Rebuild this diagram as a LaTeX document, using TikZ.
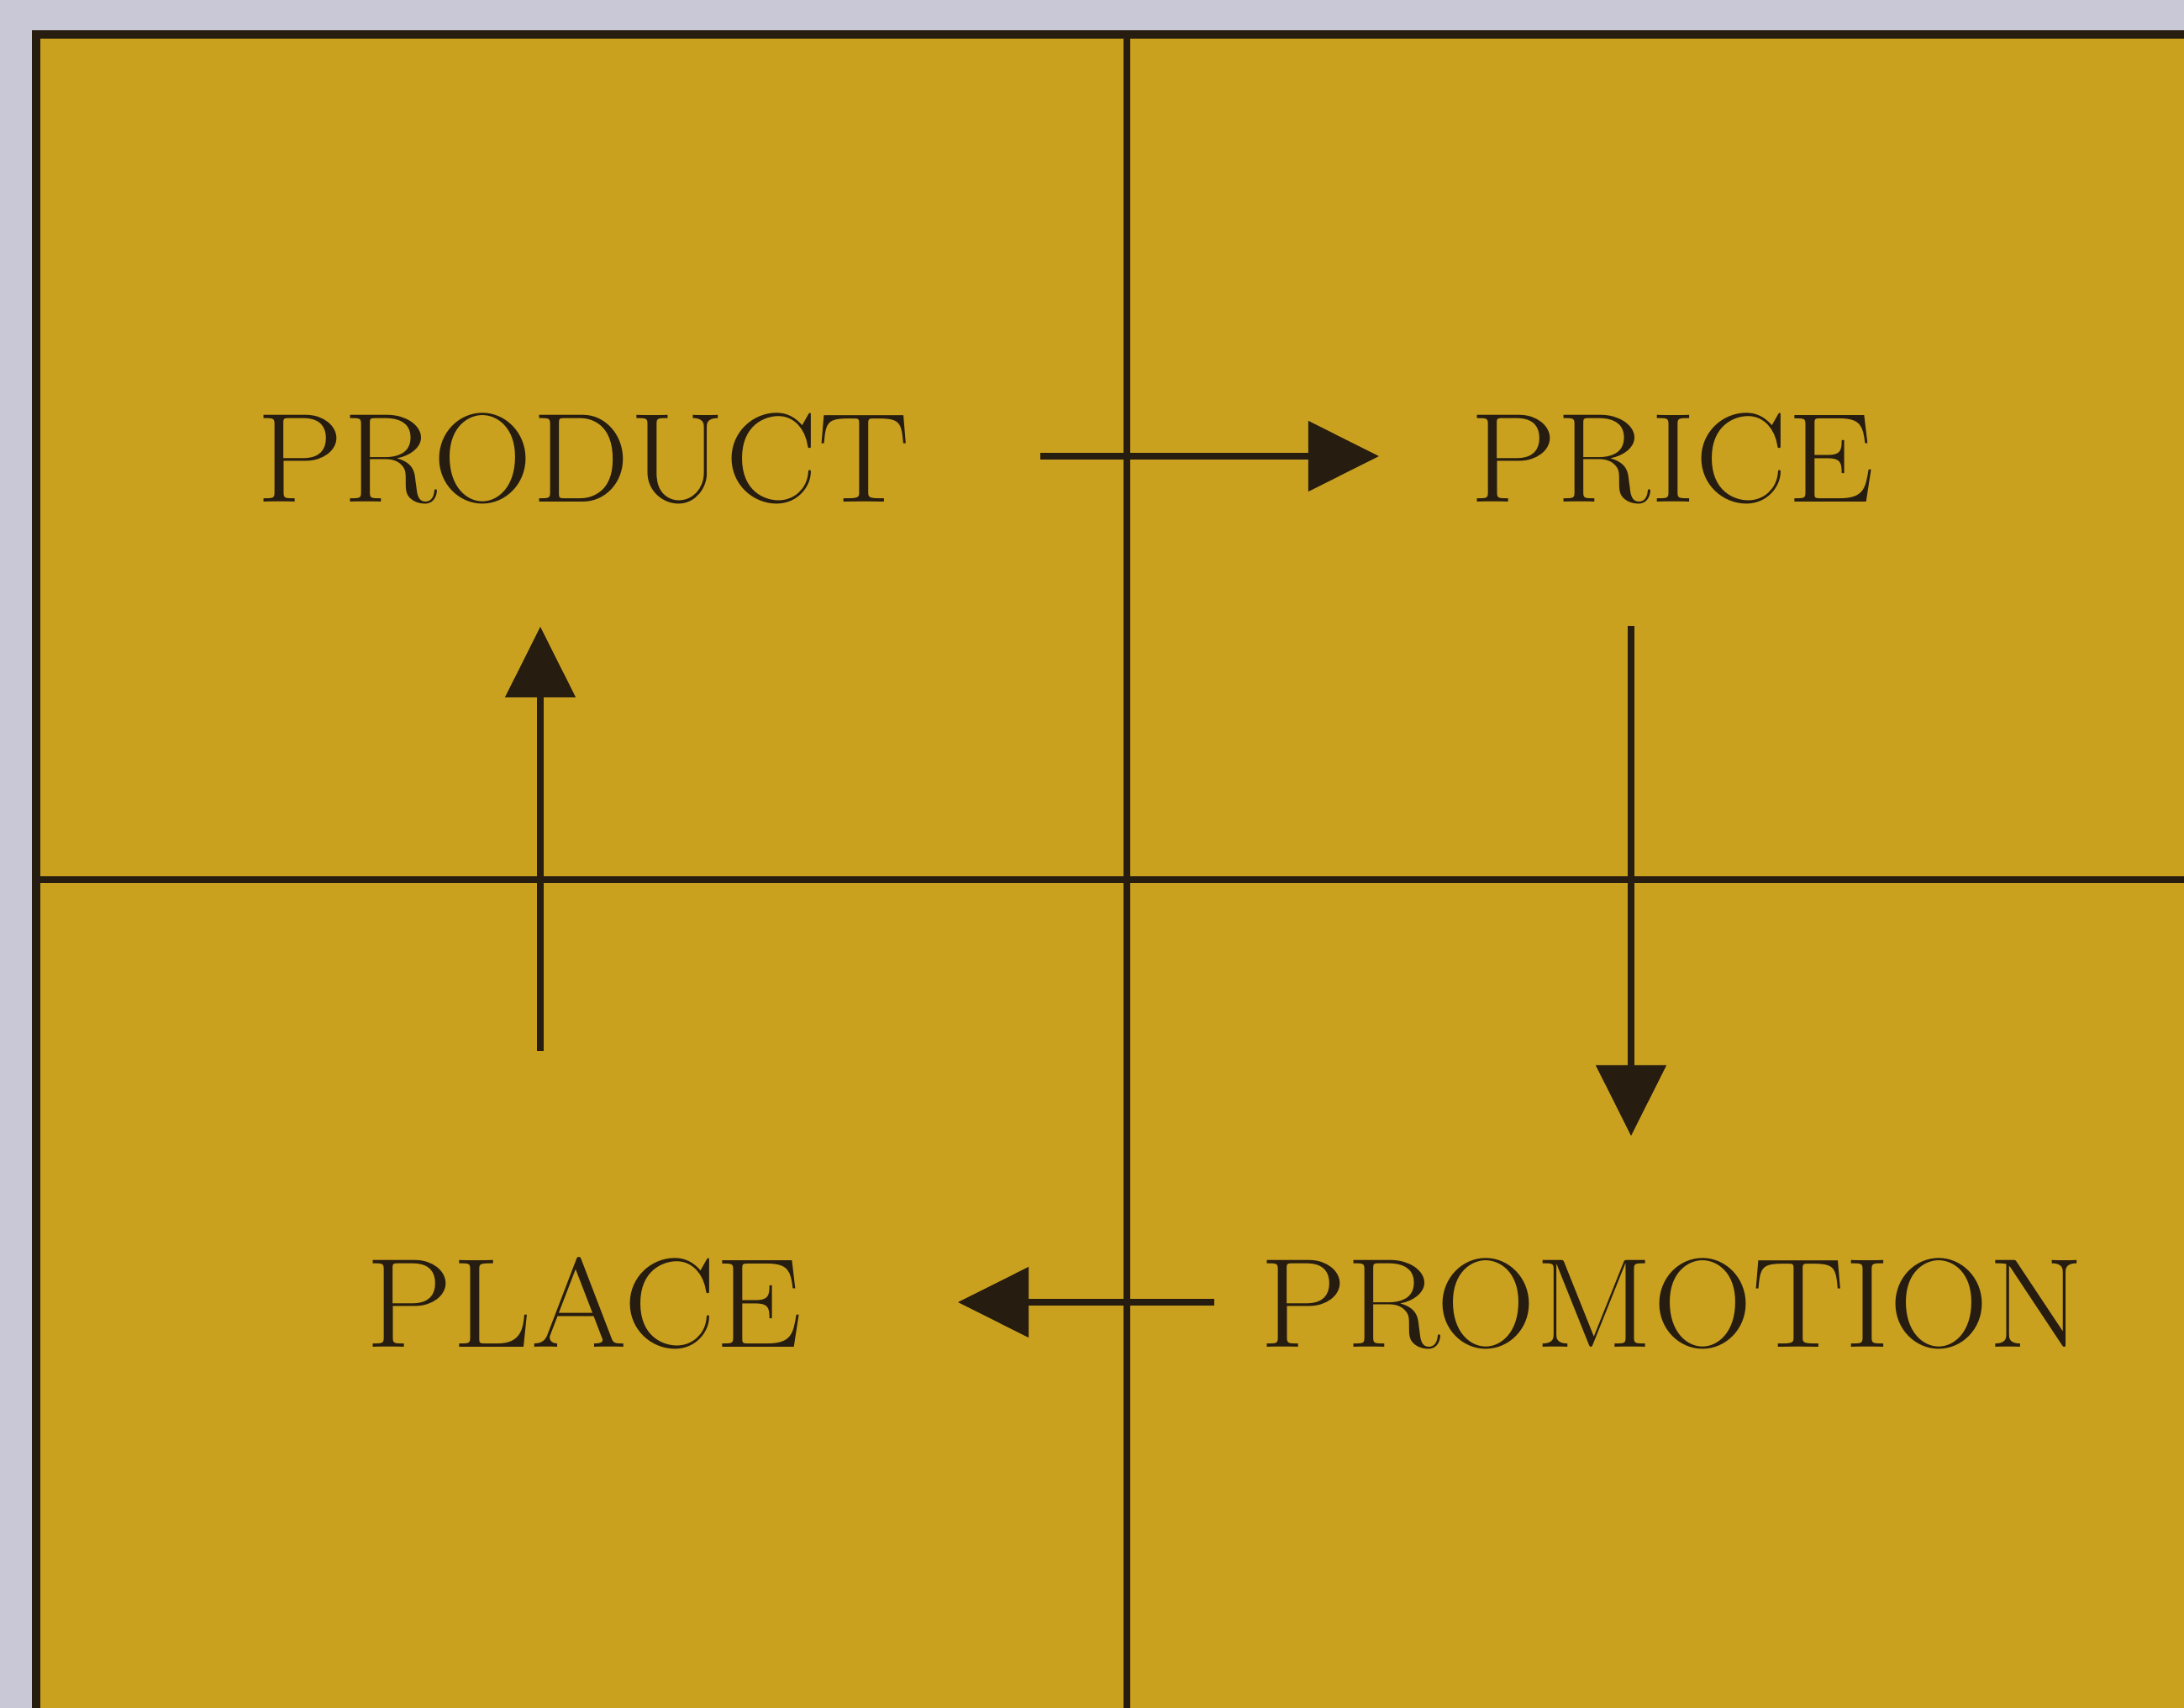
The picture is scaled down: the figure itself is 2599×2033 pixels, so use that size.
\documentclass[tikz,border=0pt]{standalone}
\usepackage{fontspec}
\newfontfamily\widelabelfont[FakeStretch=1.085]{Latin Modern Roman}
\usetikzlibrary{arrows.meta}
\definecolor{bgcol}{RGB}{201,200,214}
\definecolor{gold}{RGB}{202,161,31}
\definecolor{ink}{RGB}{38,28,16}
\tikzset{
  grid line/.style={draw=ink, line width=0.08cm},
  flow/.style={draw=ink, line width=0.08cm, -{Triangle[length=0.84cm,width=0.82cm]}},
  label4p/.style={anchor=base, text=ink, inner sep=0pt, font=\widelabelfont\fontsize{43}{50}\selectfont}
}
\begin{document}
\begin{tikzpicture}[x=0.01cm, y=-0.01cm]
\useasboundingbox (0,0) rectangle (2599,2033);
\fill[bgcol] (0,0) rectangle (2599,2033);
\fill[gold] (43,41) rectangle (2599,2033);
% dividers
\draw[grid line] (1341,41) -- (1341,2033);
\draw[grid line] (43,1047) -- (2599,1047);
% outer border (top and left)
\draw[draw=ink, line width=0.1cm] (43,2033) -- (43,41) -- (2599,41);
% labels
\node[label4p] (prod)  at (694,597)  {PRODUCT};
\node[label4p] (price) at (1990,597) {PRICE};
\node[label4p] (place) at (695,1603) {PLACE};
\node[label4p] (promo) at (1990,1603) {PROMOTION};
% arrow end points
\coordinate (a1s) at (1238,543);
\coordinate (a1e) at (1641,543);
\coordinate (a2s) at (1941,745);
\coordinate (a2e) at (1941,1352);
\coordinate (a3s) at (1445,1550);
\coordinate (a3e) at (1140,1550);
\coordinate (a4s) at (643,1251);
\coordinate (a4e) at (643,746);
\draw[flow] (a1s) -- (a1e);
\draw[flow] (a2s) -- (a2e);
\draw[flow] (a3s) -- (a3e);
\draw[flow] (a4s) -- (a4e);
\end{tikzpicture}
\end{document}
